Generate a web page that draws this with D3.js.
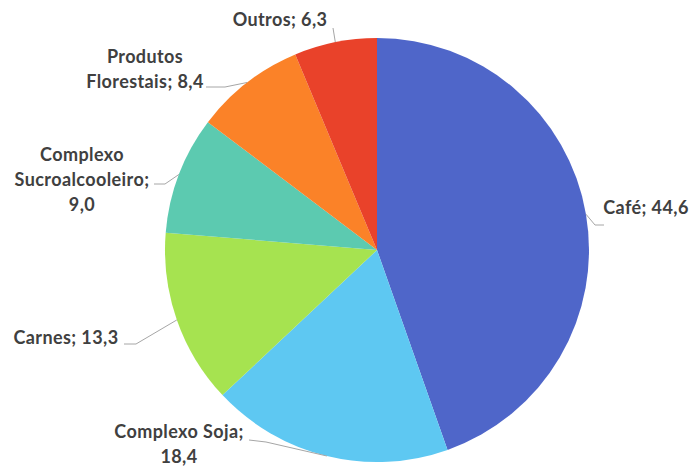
<!DOCTYPE html>
<html>
<head>
<meta charset="utf-8">
<script src="https://cdn.jsdelivr.net/npm/d3@7"></script>
<style>
  body { margin: 0; background: #fff; }
  text { font-family: Lato, sans-serif; font-weight: bold; fill: #404040; letter-spacing: 0.4px; }
</style>
</head>
<body>
<svg id="chart" width="691" height="470"></svg>
<script>
// data
const categories = ["Café", "Complexo Soja", "Carnes", "Complexo Sucroalcooleiro", "Produtos Florestais", "Outros"]
const values = [44.6, 18.4, 13.3, 9.0, 8.4, 6.3]
const colors = ["#4f66c9", "#5ec8f2", "#a6e350", "#5ccab0", "#fb8228", "#e9422a"]

// label lines as Excel breaks them
const labelLines = [
    ["Café; 44,6"],
    ["Complexo Soja;", "18,4"],
    ["Carnes; 13,3"],
    ["Complexo", "Sucroalcooleiro;", "9,0"],
    ["Produtos", "Florestais; 8,4"],
    ["Outros; 6,3"]
]

// where each label block sits (center x, first baseline) and where its leader ends
const labelLayout = [
    {x: 646, y: 214, end: [604, 225], elbow: [595, 225]},
    {x: 179, y: 438, end: [249, 440], elbow: [266, 442]},
    {x: 66,  y: 344, end: [124, 344], elbow: [136, 344]},
    {x: 82,  y: 161, end: [154, 184], elbow: [165, 184]},
    {x: 145, y: 63,  end: [206, 87],  elbow: [225, 87]},
    {x: 280, y: 26,  end: [333, 28],  elbow: [333, 28]}
]

const svg = d3.select("svg#chart")
const cx = 377, cy = 250, r = 212
const lineH = 25

const pie = d3.pie().sort(null).value(d => d)
const arcs = pie(values)
const arc = d3.arc().innerRadius(0).outerRadius(r)
const edge = d3.arc().innerRadius(r).outerRadius(r)

const g = svg.append("g").attr("transform", `translate(${cx},${cy})`)

g.selectAll("path.slice")
    .data(arcs)
    .join("path")
    .attr("class", "slice")
    .attr("d", arc)
    .attr("fill", (d, i) => colors[i])

// leader lines
svg.selectAll("polyline.leader")
    .data(arcs)
    .join("polyline")
    .attr("class", "leader")
    .attr("fill", "none")
    .attr("stroke", "#a6a6a6")
    .attr("stroke-width", 1)
    .attr("points", (d, i) => {
        const p = edge.centroid(d)
        const L = labelLayout[i]
        return [[p[0] + cx, p[1] + cy], L.elbow, L.end].map(q => q.join(",")).join(" ")
    })

// labels
const labels = svg.selectAll("text.label")
    .data(arcs)
    .join("text")
    .attr("class", "label")
    .attr("text-anchor", "middle")
    .attr("font-size", "18px")

labels.selectAll("tspan")
    .data((d, i) => labelLines[i].map(t => ({t: t, i: i})))
    .join("tspan")
    .attr("x", d => labelLayout[d.i].x)
    .attr("y", (d, j) => labelLayout[d.i].y + j * lineH)
    .text(d => d.t)
</script>
</body>
</html>
